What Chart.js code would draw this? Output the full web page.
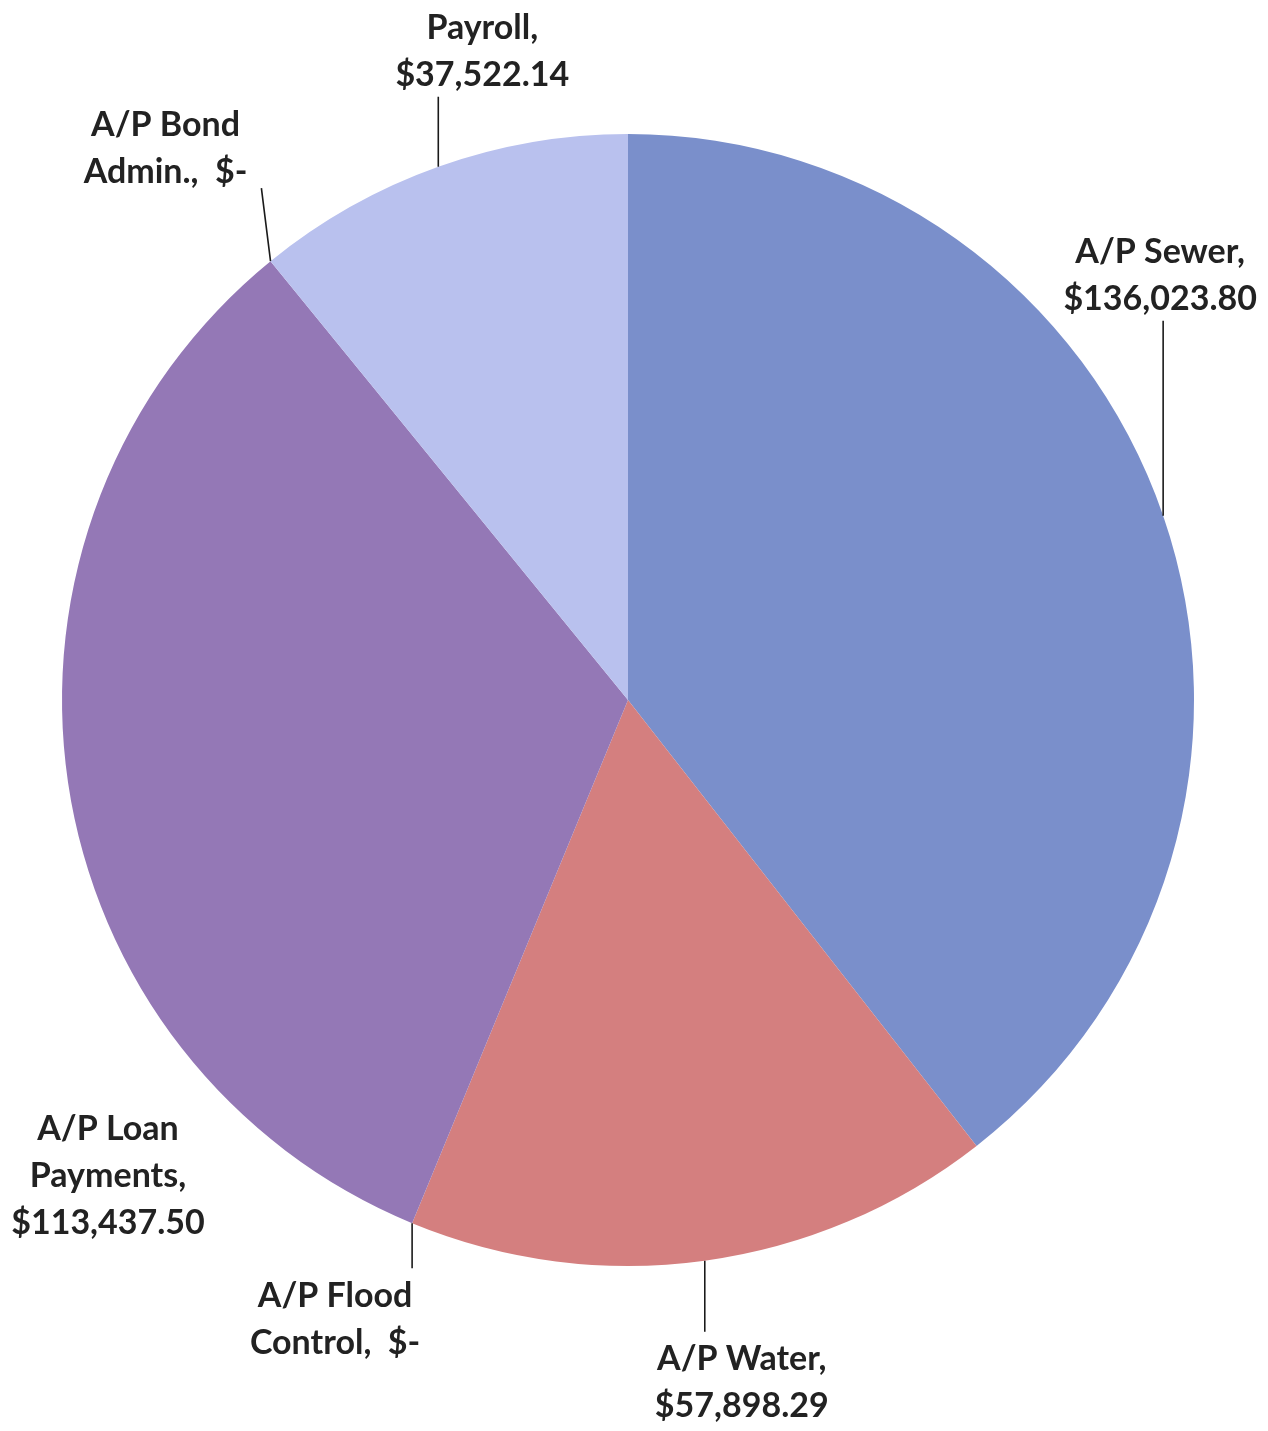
<!DOCTYPE html>
<html>
<head>
<meta charset="utf-8">
<script src="https://cdn.jsdelivr.net/npm/chart.js@4/dist/chart.umd.min.js"></script>
<style>
  html, body { margin: 0; padding: 0; background: #ffffff; }
  #wrap { width: 1268px; height: 1431px; position: relative; }
</style>
</head>
<body>
<div id="wrap"><canvas id="pie" width="1268" height="1431"></canvas></div>
<script>
// Disbursements by account
const categories = [
  "A/P Sewer",
  "A/P Water",
  "A/P Flood Control",
  "A/P Loan Payments",
  "A/P Bond Admin.",
  "Payroll"
];
const amounts = [136023.80, 57898.29, 0, 113437.50, 0, 37522.14];
const sliceColors = ["#7a8fcb", "#d47f7f", "#a5a5a5", "#9478b6", "#8fb8d8", "#b9c1ee"];

// Placement of each data label relative to its slice's rim point:
// dx/dy = offset of the text block centre, wrap = max line width,
// line = whether a leader line joins text and rim.
const labelLayout = [
  { dx: -3,   dy: -240, wrap: 210, line: true },   // Sewer: above, line drops down
  { dx: 37,   dy: 122,  wrap: 210, line: true },   // Water: below
  { dx: -77,  dy: 96,   wrap: 180, line: true },   // Flood Control: below-left
  { dx: 0,    dy: 0,    wrap: 200, line: false, abs: { x: 108, y: 1176 } }, // Loan
  { dx: -105, dy: -113, wrap: 180, line: true, hug: true },   // Bond Admin.: above-left
  { dx: 44,   dy: -115, wrap: 210, line: true }    // Payroll: above
];

const FONT = "bold 34px Lato, 'Open Sans', sans-serif";
const LINE_H = 47;

function money(v) {
  if (v === 0) return "$-";
  return "$" + v.toLocaleString("en-US", { minimumFractionDigits: 2, maximumFractionDigits: 2 });
}

function wrapWords(ctx, text, maxW) {
  const words = text.split(" ");
  const lines = [];
  let cur = "";
  for (const w of words) {
    const test = cur ? cur + " " + w : w;
    if (cur && ctx.measureText(test).width > maxW) {
      lines.push(cur);
      cur = w;
    } else {
      cur = test;
    }
  }
  if (cur) lines.push(cur);
  return lines.map(l => l.replace(", $-", ",  $-"));
}

const outsideLabels = {
  id: "outsideLabels",
  afterDatasetsDraw(chart) {
    const ctx = chart.ctx;
    const meta = chart.getDatasetMeta(0);
    ctx.save();
    ctx.font = FONT;
    ctx.textAlign = "center";
    ctx.textBaseline = "middle";
    meta.data.forEach((arc, i) => {
      const p = arc.getProps(["x", "y", "startAngle", "endAngle", "outerRadius"], true);
      const mid = (p.startAngle + p.endAngle) / 2;
      const rx = p.x + Math.cos(mid) * p.outerRadius;
      const ry = p.y + Math.sin(mid) * p.outerRadius;
      const lay = labelLayout[i];
      const cx = lay.abs ? lay.abs.x : rx + lay.dx;
      const cy = lay.abs ? lay.abs.y : ry + lay.dy;
      const text = categories[i] + ", " + money(amounts[i]);
      const lines = wrapWords(ctx, text, lay.wrap);
      const blockH = lines.length * LINE_H;
      const top = cy - blockH / 2;

      if (lay.line) {
        // leader line from rim point to the nearer edge of the text block
        const halfW = Math.max(...lines.map(l => ctx.measureText(l).width)) / 2;
        let ex, ey;
        if (lay.hug) {
          // tucked just past the last line's end
          ex = cx + halfW + 14;
          ey = top + blockH - 7;
        } else {
          ey = cy < ry ? top + blockH - 2 : top - 4;
          ex = Math.min(Math.max(rx, cx - halfW), cx + halfW);
        }
        ctx.beginPath();
        ctx.strokeStyle = "#1a1a1a";
        ctx.lineWidth = 1.6;
        ctx.moveTo(rx, ry);
        ctx.lineTo(ex, ey);
        ctx.stroke();
      }

      ctx.fillStyle = "#222222";
      lines.forEach((l, k) => {
        ctx.fillText(l, cx, top + LINE_H * (k + 0.5));
      });
    });
    ctx.restore();
  }
};

new Chart(document.getElementById("pie"), {
  type: "pie",
  data: {
    labels: categories,
    datasets: [{
      data: amounts,
      backgroundColor: sliceColors,
      borderWidth: 0
    }]
  },
  options: {
    responsive: false,
    animation: false,
    layout: { padding: { left: 62, right: 74, top: 134, bottom: 165 } },
    plugins: {
      legend: { display: false },
      tooltip: { enabled: false }
    }
  },
  plugins: [outsideLabels]
});
</script>
</body>
</html>
